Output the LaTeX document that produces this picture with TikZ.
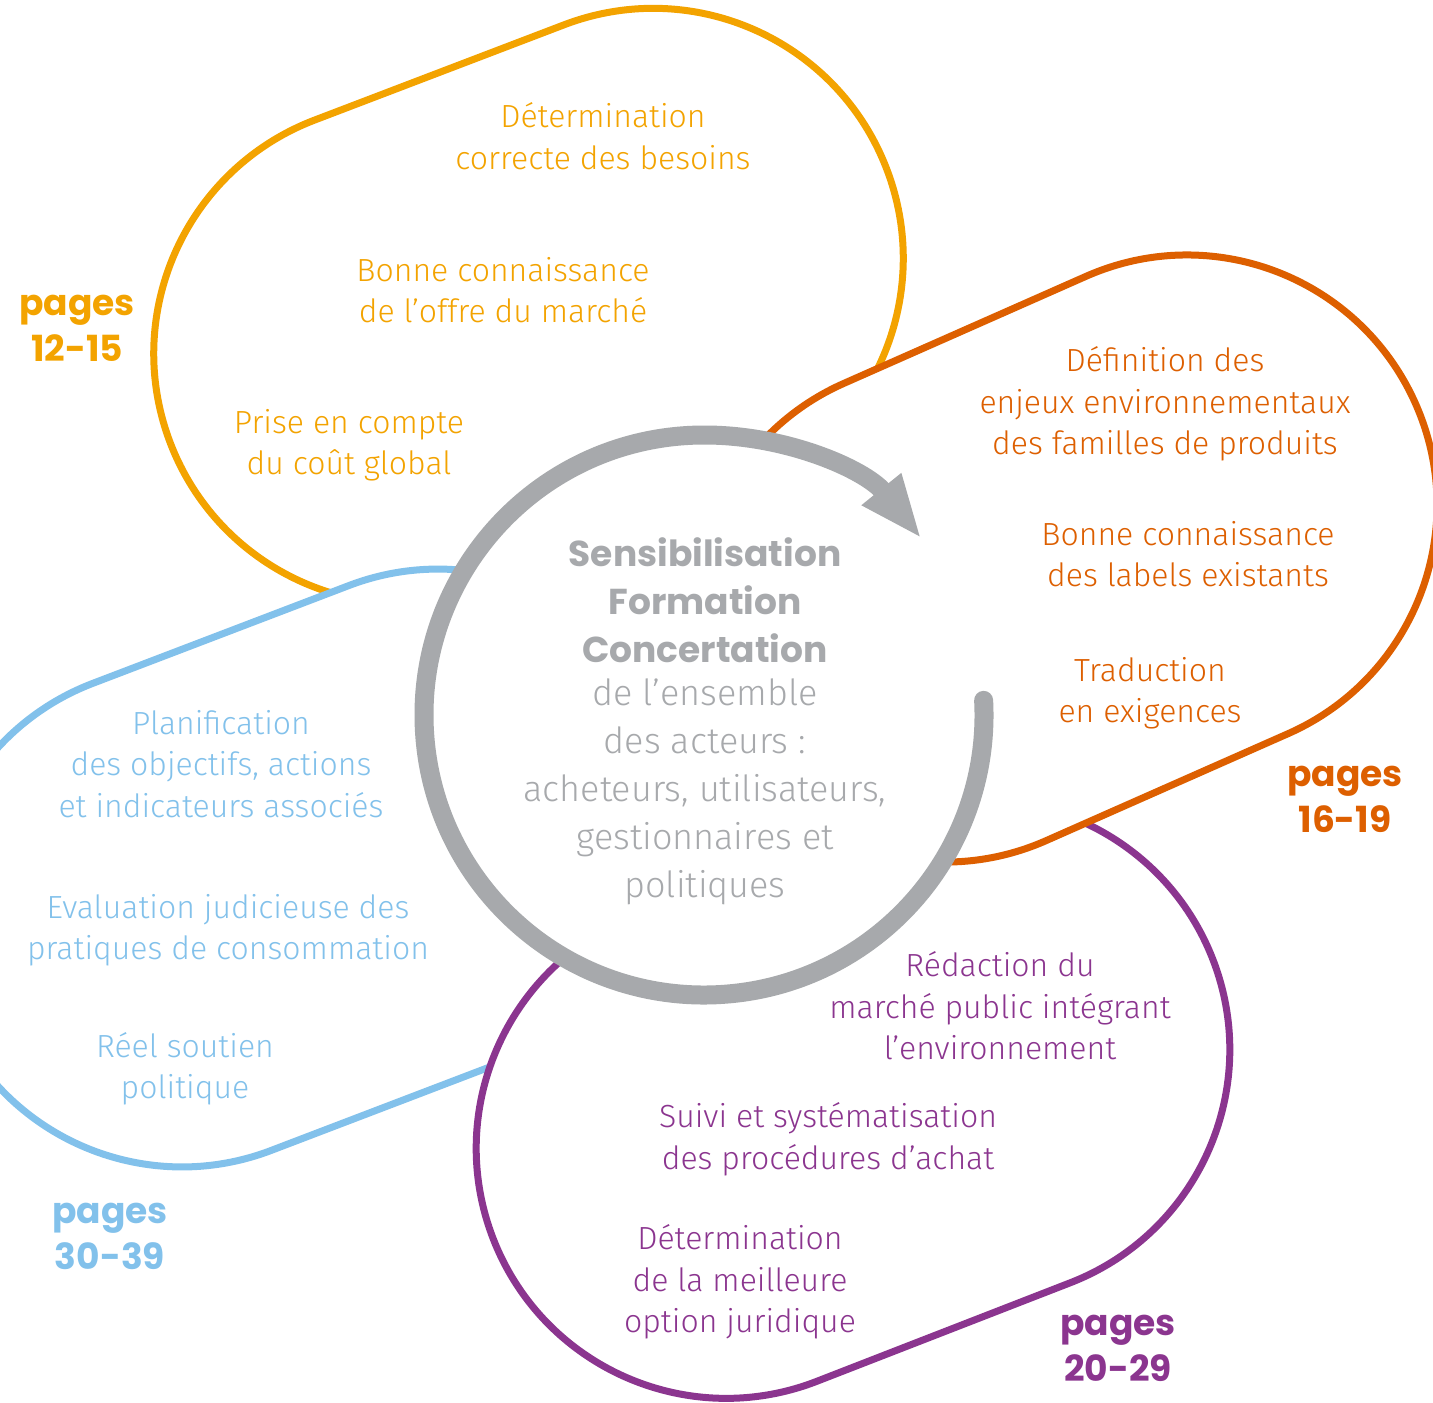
\documentclass[tikz,border=0pt]{standalone}
\usepackage{fontspec}
\setmainfont{Fira Sans Light}
\newfontfamily\grasfont{Poppins Bold}
\usepackage{tikz}
\usetikzlibrary{shapes.misc, arrows.meta}
\usepackage{xcolor}
\definecolor{jaune}{RGB}{243,163,0}
\definecolor{orangef}{RGB}{221,95,0}
\definecolor{bleu}{RGB}{130,193,235}
\definecolor{violet}{RGB}{139,53,143}
\definecolor{gris}{RGB}{167,169,172}
\tikzset{
  capsule/.style={rounded rectangle, draw=#1, fill=white, line width=3.5pt,
                  minimum height=250pt, inner sep=0pt},
  texte/.style={align=center, text=#1, font=\fontsize{16}{20.75}\selectfont},
  pages/.style={align=center, text=#1, font=\grasfont\fontsize{18}{23}\selectfont},
  fleche/.style={-{Triangle[length=32pt, width=23pt]}, line width=9.5pt,
                 gris, line cap=round}
}

\begin{document}
\begin{tikzpicture}[x=0.5pt, y=-0.5pt]
  \useasboundingbox (0,0) rectangle (1433,1402);
  \clip (0,0) rectangle (1433,1402);
  % les quatre etapes, de l'arriere vers l'avant
  \node[capsule=jaune, minimum width=383.5pt, rotate=20.9] (besoins) at (528.5,306) {};
  \node[capsule=bleu, minimum width=387pt, rotate=20.9] (planif) at (310,868) {};
  \node[capsule=violet, minimum width=386pt, rotate=21.25] (marche) at (853,1099) {};
  \node[capsule=orangef, minimum width=382.3pt, rotate=23.85] (enjeux) at (1066,558.5) {};
  % cercle central
  \node[circle, fill=white, minimum size=280pt, inner sep=0pt] (cercle) at (704,715) {};
  \draw[fleche] (cercle.center) ++(-3:280) arc[start angle=-3, end angle=321, radius=280];

  \node[texte=jaune] (b1) at (603,136) {Détermination\\correcte des besoins};
  \node[texte=jaune] (b2) at (503,290) {Bonne connaissance\\de l’offre du marché};
  \node[texte=jaune] (b3) at (349,445) {Prise en compte\\du coût global};
  \node[pages=jaune] (p1) at (77,328) {pages\\12-15};

  \node[texte=orangef] (e1) at (1165,404) {Définition des\\enjeux environnementaux\\des familles de produits};
  \node[texte=orangef] (e2) at (1188,554) {Bonne connaissance\\des labels existants};
  \node[texte=orangef] (e3) at (1150,693) {Traduction\\en exigences};
  \node[pages=orangef] (p2) at (1345,799) {pages\\16-19};

  \node[texte=violet] (m1) at (1000,1006) {Rédaction du\\marché public intégrant\\l’environnement};
  \node[texte=violet] (m2) at (828,1139) {Suivi et systématisation\\des procédures d’achat};
  \node[texte=violet] (m3) at (740,1282) {Détermination\\de la meilleure\\option juridique};
  \node[pages=violet] (p3) at (1118,1348) {pages\\20-29};

  \node[texte=bleu] (l1) at (221,764) {Planification\\des objectifs, actions\\et indicateurs associés};
  \node[texte=bleu] (l2) at (228,930) {Evaluation judicieuse des\\pratiques de consommation};
  \node[texte=bleu] (l3) at (185,1069) {Réel soutien\\politique};
  \node[pages=bleu] (p4) at (110,1236) {pages\\30-39};

  \node[align=center, text=gris, font=\grasfont\fontsize{18}{24}\selectfont] (theme) at (705,600)
    {Sensibilisation\\Formation\\Concertation};
  \node[align=center, text=gris, font=\fontsize{18}{24}\selectfont] (acteurs) at (705,792)
    {de l’ensemble\\des acteurs :\\acheteurs, utilisateurs,\\gestionnaires et\\politiques};
\end{tikzpicture}
\end{document}
